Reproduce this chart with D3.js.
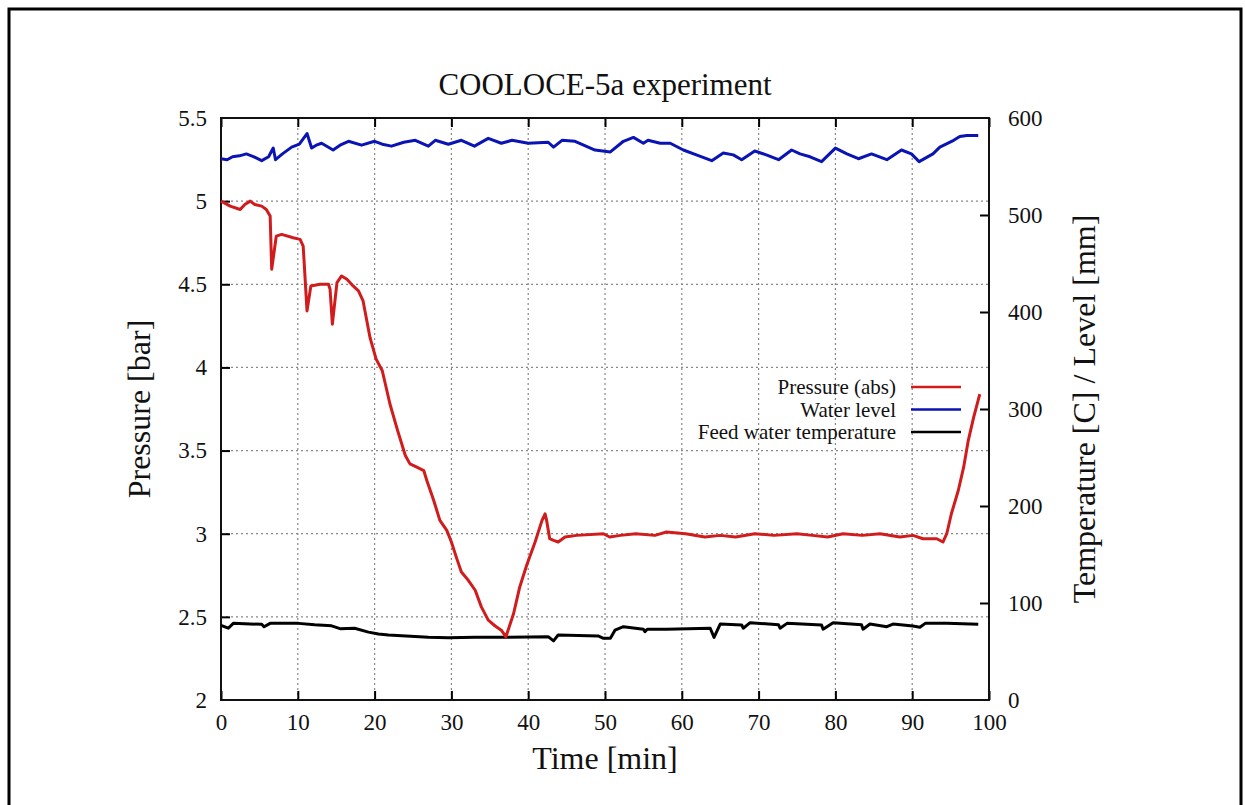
<!DOCTYPE html>
<html>
<head>
<meta charset="utf-8">
<script src="https://cdn.jsdelivr.net/npm/d3@7"></script>
<style>
  body { margin: 0; background: #fff; }
  svg { display: block; font-family: "Liberation Serif", "DejaVu Serif", serif; }
</style>
</head>
<body>
<div id="chart"></div>
<script>
// Time [min] vs pressure [bar] (left axis)
const pressure = [
  [0, 5.0], [1.2, 4.97], [2.5, 4.95], [3.1, 4.98], [3.8, 5.0], [4.4, 4.98], [5.3, 4.97],
  [5.9, 4.95], [6.4, 4.91], [6.6, 4.59], [7.2, 4.79], [7.9, 4.80], [9.4, 4.78], [10.3, 4.77],
  [10.7, 4.73], [11.2, 4.34], [11.7, 4.49], [12.9, 4.50], [14.0, 4.50], [14.2, 4.47],
  [14.5, 4.26], [15.1, 4.51], [15.7, 4.55], [16.4, 4.53], [17.2, 4.49], [17.9, 4.46],
  [18.5, 4.40], [19.4, 4.18], [20.2, 4.05], [21.0, 3.98], [22.0, 3.78], [23.0, 3.62],
  [24.0, 3.47], [24.6, 3.42], [25.5, 3.40], [26.4, 3.38], [26.8, 3.32], [27.7, 3.20],
  [28.5, 3.08], [29.4, 3.02], [30.0, 2.95], [30.7, 2.85], [31.3, 2.77], [32.2, 2.72],
  [33.1, 2.66], [33.9, 2.56], [34.8, 2.48], [35.7, 2.445], [36.5, 2.42], [37.1, 2.38],
  [38.1, 2.52], [38.9, 2.68], [39.8, 2.81], [40.9, 2.95], [41.8, 3.08], [42.2, 3.12],
  [42.4, 3.08], [42.8, 2.97], [43.3, 2.96], [43.9, 2.95], [44.8, 2.98], [46.3, 2.99],
  [49.8, 3.0], [50.6, 2.98], [52.0, 2.99], [54.0, 3.0], [56.5, 2.99], [58.0, 3.01],
  [60.5, 3.0], [63.0, 2.98], [65.0, 2.99], [67.0, 2.98], [69.5, 3.0], [72.0, 2.99],
  [75.0, 3.0], [77.0, 2.99], [79.0, 2.98], [81.0, 3.0], [83.5, 2.99], [85.8, 3.0],
  [88.4, 2.98], [90.1, 2.99], [91.4, 2.97], [93.2, 2.97], [94.0, 2.95], [94.5, 3.0],
  [95.1, 3.12], [96.0, 3.26], [96.7, 3.40], [97.3, 3.56], [98.0, 3.70], [98.8, 3.84]
];

// Time [min] vs water level [mm] (right axis)
const waterLevel = [
  [0, 558], [0.8, 557], [1.5, 560], [2.4, 561], [3.3, 563], [4.3, 560], [5.3, 556], [6.2, 560],
  [6.8, 569], [7.1, 557], [8.0, 563], [9.2, 570], [10.2, 573], [11.2, 584], [11.8, 569],
  [12.4, 572], [13.1, 574], [14.6, 567], [15.5, 572], [16.6, 576], [18.3, 572], [20.0, 576],
  [21.0, 573], [22.2, 571], [23.8, 575], [25.3, 577], [27.0, 571], [27.9, 577], [29.6, 573],
  [31.3, 577], [33.0, 571], [34.8, 579], [36.5, 574], [37.9, 577], [40.0, 574], [42.6, 575],
  [43.3, 570], [44.4, 577], [46.1, 576], [48.7, 567], [50.7, 565], [52.4, 576], [53.7, 580],
  [55.0, 574], [55.6, 577], [57.2, 574], [58.5, 574], [60.2, 567], [61.9, 562], [63.9, 556],
  [65.4, 564], [66.7, 562], [67.8, 557], [69.5, 566], [71.0, 562], [72.6, 557], [74.3, 567],
  [75.4, 563], [76.7, 560], [78.2, 555], [80.0, 569], [81.5, 563], [83.0, 558], [84.7, 563],
  [86.7, 557], [88.6, 567], [89.9, 563], [90.9, 555], [92.7, 563], [93.6, 570], [95.4, 577],
  [96.2, 581], [97.1, 582], [98.6, 582]
];

// Time [min] vs feed water temperature [C] (right axis)
const feedTemp = [
  [0, 77], [0.95, 74], [1.6, 79], [5.3, 78], [5.6, 75.5], [6.4, 79], [10.1, 79], [12.2, 77.5],
  [14.4, 76.5], [15.5, 73.5], [17.4, 74], [19.2, 70], [20.5, 68], [21.8, 67], [27.0, 64.6],
  [29.6, 64.3], [33.1, 64.6], [37.4, 64.6], [42.6, 65.3], [43.3, 61], [43.9, 67], [49.1, 66],
  [49.8, 63.6], [50.7, 63.6], [51.3, 72], [52.4, 75.6], [55.0, 73], [55.2, 70.5], [55.5, 73],
  [58.0, 73], [63.7, 74], [64.2, 64.6], [65.0, 78.3], [67.8, 77.3], [68.0, 74], [68.9, 79.7],
  [72.6, 77.5], [72.8, 74], [73.7, 79], [78.2, 77.3], [78.4, 73], [79.7, 79.7], [83.4, 77.5],
  [83.6, 73], [84.5, 78.3], [86.7, 75.6], [87.5, 78.3], [90.1, 76.3], [91.0, 75], [91.7, 79],
  [94.5, 79], [98.6, 78]
];

const xTicks = d3.range(0, 101, 10);
const yTicks = d3.range(2, 5.51, 0.5);
const y2Ticks = d3.range(0, 601, 100);

const legendItems = [
  { label: "Pressure (abs)", color: "#d01c1c" },
  { label: "Water level", color: "#0a14b4" },
  { label: "Feed water temperature", color: "#000000" }
];

const W = 1245, H = 805;
const margin = { top: 118, right: 256, bottom: 105, left: 221 },
      width = W - margin.left - margin.right,
      height = H - margin.top - margin.bottom;

const root = d3.select("#chart").append("svg")
    .attr("width", W)
    .attr("height", H);

// outer frame
root.append("rect")
    .attr("x", 9).attr("y", 9)
    .attr("width", 1232).attr("height", 900)
    .attr("fill", "none")
    .attr("stroke", "#000")
    .attr("stroke-width", 3);

const svg = root.append("g")
    .attr("transform", `translate(${margin.left},${margin.top})`);

const x = d3.scaleLinear().domain([0, 100]).range([0, width]);
const y = d3.scaleLinear().domain([2, 5.5]).range([height, 0]);
const y2 = d3.scaleLinear().domain([0, 600]).range([height, 0]);

// grid
svg.append("g").selectAll("line")
    .data(xTicks.slice(1, -1))
    .enter().append("line")
    .attr("x1", d => x(d)).attr("x2", d => x(d))
    .attr("y1", 0).attr("y2", height)
    .attr("stroke", "#888")
    .attr("stroke-width", 1.2)
    .attr("stroke-dasharray", "2,3");

svg.append("g").selectAll("line")
    .data(yTicks.slice(1, -1))
    .enter().append("line")
    .attr("x1", 0).attr("x2", width)
    .attr("y1", d => y(d)).attr("y2", d => y(d))
    .attr("stroke", "#888")
    .attr("stroke-width", 1.2)
    .attr("stroke-dasharray", "2,3");

// axes (ticks pointing inward)
const fmt = d => d3.format("")(+d.toFixed(1));

const xAxis = svg.append("g")
    .attr("transform", `translate(0,${height})`)
    .call(d3.axisBottom(x).tickValues(xTicks).tickSize(-9).tickPadding(14).tickFormat(d3.format("d")));
svg.append("g")
    .call(d3.axisTop(x).tickValues(xTicks).tickSize(-9).tickFormat(""));
const yAxis = svg.append("g")
    .call(d3.axisLeft(y).tickValues(yTicks).tickSize(-9).tickPadding(14).tickFormat(fmt));
const y2Axis = svg.append("g")
    .attr("transform", `translate(${width},0)`)
    .call(d3.axisRight(y2).tickValues(y2Ticks).tickSize(-9).tickPadding(19).tickFormat(d3.format("d")));

[xAxis, yAxis, y2Axis].forEach(a => {
  a.attr("font-family", null).attr("font-size", null);
  a.selectAll("text")
      .style("font-family", "'Liberation Serif', serif")
      .style("font-size", "23px")
      .attr("fill", "#111");
});
svg.selectAll(".domain").attr("stroke", "none");
svg.selectAll(".tick line").attr("stroke", "#000").attr("stroke-width", 2);
// drop the corner ticks that fall on the frame
y2Axis.selectAll(".tick line").filter(d => d === 0 || d === 600).remove();
yAxis.selectAll(".tick line").filter(d => d === 2 || d === 5.5).remove();

// plot box
svg.append("rect")
    .attr("width", width).attr("height", height)
    .attr("fill", "none")
    .attr("stroke", "#111")
    .attr("stroke-width", 2);

// lines
const lineP = d3.line().x(d => x(d[0])).y(d => y(d[1]));
const lineR = d3.line().x(d => x(d[0])).y(d => y2(d[1]));

svg.append("path").datum(waterLevel)
    .attr("fill", "none").attr("stroke", legendItems[1].color)
    .attr("stroke-width", 3).attr("stroke-linejoin", "round")
    .attr("d", lineR);

svg.append("path").datum(feedTemp)
    .attr("fill", "none").attr("stroke", legendItems[2].color)
    .attr("stroke-width", 3).attr("stroke-linejoin", "round")
    .attr("d", lineR);

svg.append("path").datum(pressure)
    .attr("fill", "none").attr("stroke", legendItems[0].color)
    .attr("stroke-width", 3).attr("stroke-linejoin", "round")
    .attr("d", lineP);

// legend
const legend = svg.append("g")
    .attr("transform", `translate(${675}, ${269})`);

legendItems.forEach((item, i) => {
  legend.append("text")
      .attr("x", 0)
      .attr("y", i * 22.5)
      .attr("dy", "0.35em")
      .attr("text-anchor", "end")
      .style("font-size", "21px")
      .attr("fill", "#111")
      .text(item.label);
  legend.append("line")
      .attr("x1", 15).attr("x2", 65)
      .attr("y1", i * 22.5).attr("y2", i * 22.5)
      .attr("stroke", item.color)
      .attr("stroke-width", 2.5);
});

// title
svg.append("text")
    .attr("x", width / 2)
    .attr("y", -23)
    .attr("text-anchor", "middle")
    .style("font-size", "31px")
    .attr("fill", "#111")
    .text("COOLOCE-5a experiment");

// X-axis label
svg.append("text")
    .attr("x", width / 2)
    .attr("y", height + 69)
    .attr("text-anchor", "middle")
    .style("font-size", "32px")
    .attr("fill", "#111")
    .text("Time [min]");

// Y-axis label
svg.append("text")
    .attr("transform", "rotate(-90)")
    .attr("x", -height / 2)
    .attr("y", -71)
    .attr("text-anchor", "middle")
    .style("font-size", "32px")
    .attr("fill", "#111")
    .text("Pressure [bar]");

// Right Y-axis label
svg.append("text")
    .attr("transform", "rotate(-90)")
    .attr("x", -height / 2)
    .attr("y", width + 106)
    .attr("text-anchor", "middle")
    .style("font-size", "32px")
    .attr("fill", "#111")
    .text("Temperature [C] / Level [mm]");
</script>
</body>
</html>
